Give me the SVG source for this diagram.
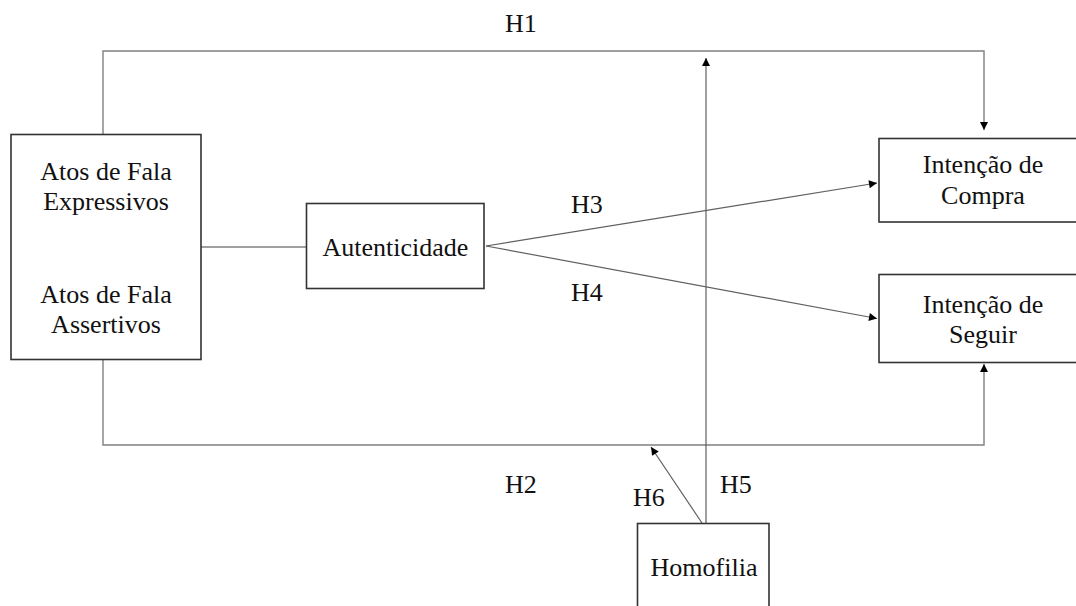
<svg xmlns="http://www.w3.org/2000/svg" width="1076" height="606" viewBox="0 0 1076 606">
<style>
.box{fill:#fff;stroke:#333;stroke-width:1.6}
.t{font-family:"Liberation Serif","Times New Roman",serif;font-size:26px;fill:#111;text-anchor:middle}
.l{font-family:"Liberation Serif","Times New Roman",serif;font-size:26px;fill:#111}
.c{fill:none;stroke:#808080;stroke-width:1.4}
.a{fill:none;stroke:#606060;stroke-width:1.2}
</style>
<defs>
<marker id="arr" viewBox="0 0 10 10" refX="10" refY="5" markerWidth="9" markerHeight="8" markerUnits="userSpaceOnUse" orient="auto">
<path d="M0,0 L10,5 L0,10 z" fill="#000"/>
</marker>
</defs>
<rect width="1076" height="606" fill="#fff"/>
<g id="connectors">
<polyline class="c" points="103,134.5 103,51 984,51 984,130" marker-end="url(#arr)"/>
<polyline class="c" points="103,359.5 103,445 984,445 984,364" marker-end="url(#arr)"/>
<line class="c" x1="201" y1="247" x2="306.5" y2="247"/>
<line class="a" x1="486" y1="246" x2="877" y2="183" marker-end="url(#arr)"/>
<line class="a" x1="486" y1="246" x2="877" y2="318.5" marker-end="url(#arr)"/>
<line class="a" x1="706" y1="523" x2="706" y2="58" marker-end="url(#arr)"/>
<line class="a" x1="702" y1="523" x2="651" y2="447" marker-end="url(#arr)"/>
</g>
<g id="labels">
<text class="l" x="505" y="32">H1</text>
<text class="l" x="505" y="493">H2</text>
<text class="l" x="571" y="213">H3</text>
<text class="l" x="571" y="301">H4</text>
<text class="l" x="720" y="493">H5</text>
<text class="l" x="633" y="506">H6</text>
</g>
<g id="atos">
<rect class="box" x="11" y="134.5" width="190" height="225"/>
<text class="t" x="106" y="180">Atos de Fala</text>
<text class="t" x="106" y="210">Expressivos</text>
<text class="t" x="106" y="303">Atos de Fala</text>
<text class="t" x="106" y="333">Assertivos</text>
</g>
<g id="autenticidade">
<rect class="box" x="306.5" y="203.5" width="177.5" height="85"/>
<text class="t" x="395.5" y="256">Autenticidade</text>
</g>
<g id="compra">
<rect class="box" x="879" y="138.5" width="210" height="83.5"/>
<text class="t" x="983" y="173">Intenção de</text>
<text class="t" x="983" y="204">Compra</text>
</g>
<g id="seguir">
<rect class="box" x="879" y="274.5" width="210" height="88"/>
<text class="t" x="983" y="313">Intenção de</text>
<text class="t" x="983" y="343">Seguir</text>
</g>
<g id="homofilia">
<rect class="box" x="637.5" y="523.5" width="131.5" height="100"/>
<text class="t" x="704" y="576">Homofilia</text>
</g>
</svg>
